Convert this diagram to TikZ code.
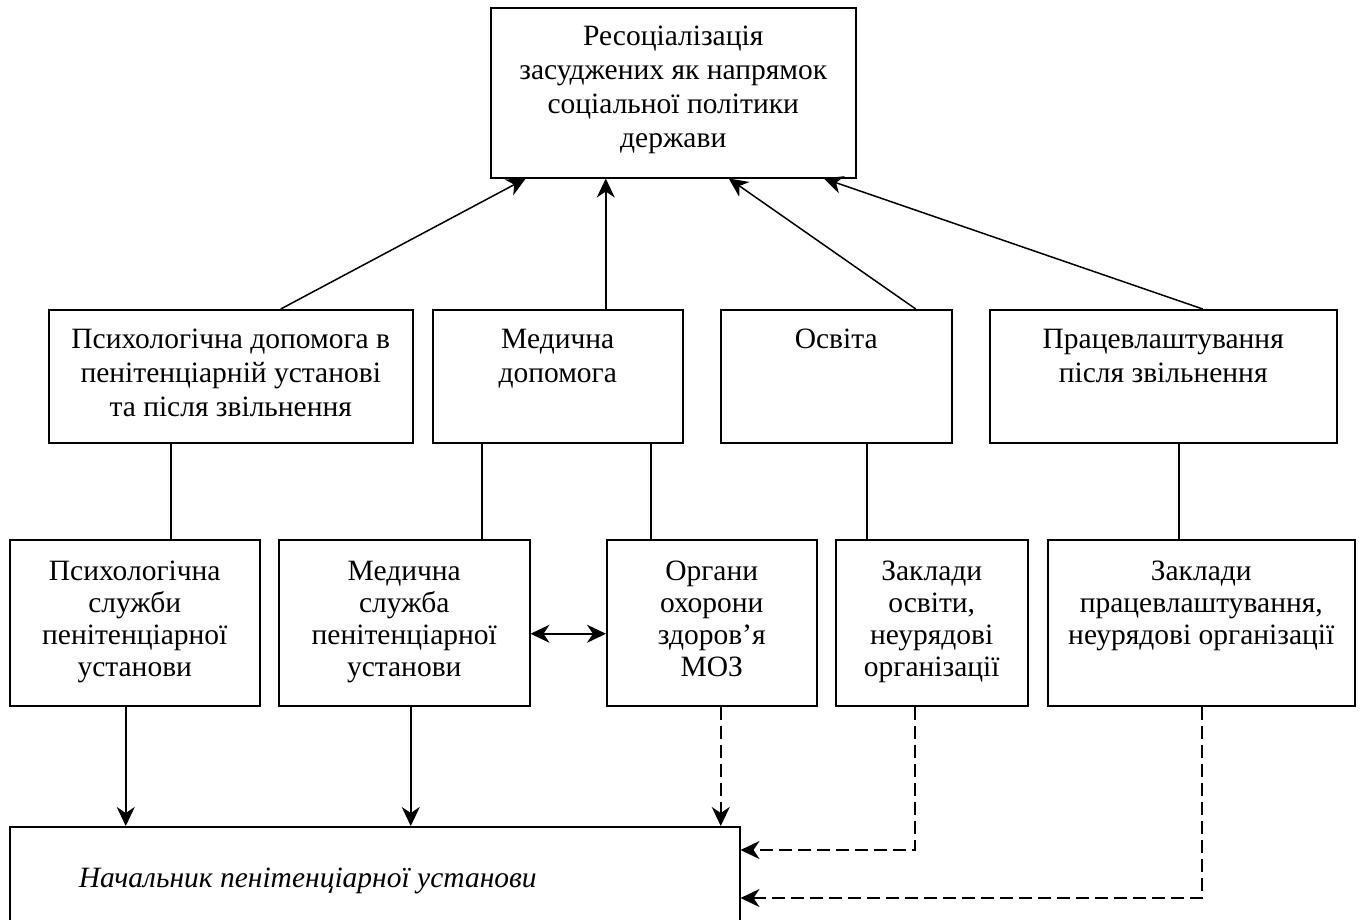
\documentclass[tikz,border=0pt]{standalone}
\usepackage{fontspec}
\setmainfont{Liberation Serif}
\usetikzlibrary{arrows.meta}

% a box of fixed size whose centred text starts near its top;
% the optional argument is the space above the first line
\newcommand{\cellbox}[4][14pt]{\parbox[c][#3][t]{#2}{\centering\vspace*{#1}\strut #4\par}}

\begin{document}
\begin{tikzpicture}[x=1pt, y=-1pt, line width=1.5pt,
  >={Stealth[length=19pt, width=18pt, inset=6pt]},
  box/.style={draw, inner sep=0pt, anchor=north west,
              font=\fontsize{29.5pt}{34pt}\selectfont},
  lowbox/.style={box, font=\fontsize{29.5pt}{32pt}\selectfont},
  dashedline/.style={dash pattern=on 13pt off 6pt}]

\useasboundingbox (0,0) rectangle (1360,919);

% main goal
\node[box] (top) at (490,7) {\cellbox{365pt}{170pt}{Ресоціалізація\\засуджених як напрямок\\соціальної політики\\держави}};

% directions
\node[box] (A) at (48,309)  {\cellbox[15pt]{364pt}{133pt}{Психологічна допомога в\\пенітенціарній установі\\та після звільнення}};
\node[box] (B) at (432,309) {\cellbox[15pt]{250pt}{133pt}{Медична\\допомога}};
\node[box] (C) at (720,309) {\cellbox[15pt]{231pt}{133pt}{Освіта}};
\node[box] (D) at (989,309) {\cellbox[15pt]{347pt}{133pt}{Працевлаштування\\після звільнення}};

% executing bodies
\node[lowbox] (E) at (9,539)    {\cellbox[18pt]{250pt}{166pt}{Психологічна\\служби\\пенітенціарної\\установи}};
\node[lowbox] (F) at (278,539)  {\cellbox[18pt]{251pt}{166pt}{Медична\\служба\\пенітенціарної\\установи}};
\node[lowbox] (G) at (606,539)  {\cellbox[18pt]{210pt}{166pt}{Органи\\охорони\\здоров’я\\МОЗ}};
\node[lowbox] (H) at (835,539)  {\cellbox[18pt]{192pt}{166pt}{Заклади\\освіти,\\неурядові\\організації}};
\node[lowbox] (I) at (1047,539) {\cellbox[18pt]{307pt}{166pt}{Заклади\\працевлаштування,\\неурядові організації}};

% head of the institution
\node[box] (chief) at (9,826) {\parbox[c][110pt][t]{730pt}{\vspace*{37pt}\hspace*{69pt}\strut\textit{Начальник пенітенціарної установи}}};

% directions towards the main goal
\draw[->] ([xshift=50pt]A.north) -- ([xshift=-147.5pt]top.south);
\draw[->] ([xshift=48pt]B.north) coordinate (p) -- (p |- top.south);
\draw[->] ([xshift=79.5pt]C.north) -- ([xshift=55.5pt]top.south);
\draw[->] ([xshift=39.5pt]D.north) -- ([xshift=150.5pt]top.south);

% directions to their bodies
\draw ([xshift=-60pt]A.south) coordinate (p) -- (p |- E.north);
\draw ([xshift=-76pt]B.south) coordinate (p) -- (p |- F.north);
\draw ([xshift=93pt]B.south) coordinate (p) -- (p |- G.north);
\draw ([xshift=30.5pt]C.south) coordinate (p) -- (p |- H.north);
\draw ([xshift=15.5pt]D.south) coordinate (p) -- (p |- I.north);

% medical cooperation
\draw[<->] ([yshift=-11pt]F.east) coordinate (p) -- (p -| G.west);

% reporting to the head
\draw[->] ([xshift=-9pt]E.south) coordinate (p) -- (p |- chief.north);
\draw[->] ([xshift=6.5pt]F.south) coordinate (p) -- (p |- chief.north);
\draw[->, dashedline] ([xshift=9pt]G.south) coordinate (p) -- (p |- chief.north);
\draw[->, dashedline] ([xshift=-17pt]H.south) |- ([yshift=-24pt]chief.north east);
\draw[->, dashedline] ([xshift=0.5pt]I.south) |- ([yshift=-72pt]chief.north east);

\end{tikzpicture}
\end{document}
